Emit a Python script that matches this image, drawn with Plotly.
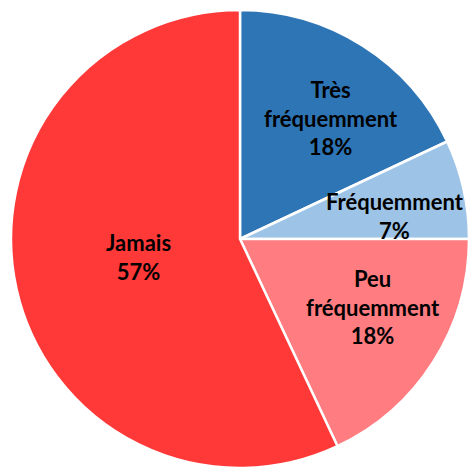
import plotly.graph_objects as go

labels = ["Très fréquemment", "Fréquemment", "Peu fréquemment", "Jamais"]
label_lines = ["Très<br>fréquemment", "Fréquemment", "Peu<br>fréquemment", "Jamais"]
values = [18, 7, 18, 57]
colors = ["#2E75B6", "#9DC3E6", "#FF7C80", "#FF3838"]

W, H = 469, 468
fig = go.Figure(go.Pie(
    labels=labels, values=values, sort=False, direction="clockwise", rotation=0,
    marker=dict(colors=colors, line=dict(color="white", width=2.5)),
    textinfo="none", hoverinfo="label+percent", showlegend=False,
    domain=dict(x=[11 / W, 1], y=[0, 1 - 10 / H]),
))

# label centres in page pixels
pos = [(331, 118), (395, 216), (373, 307), (138, 257)]
total = sum(values)
for (px, py), txt, v in zip(pos, label_lines, values):
    fig.add_annotation(
        x=px / W, y=1 - py / H, xref="paper", yref="paper",
        xanchor="center", yanchor="middle",
        text=f"<b>{txt}<br>{round(100 * v / total)}%</b>", showarrow=False,
        font=dict(family="Lato", size=22, color="black"), align="center",
    )

fig.update_layout(width=W, height=H, margin=dict(l=0, r=0, t=0, b=0),
                  paper_bgcolor="white", plot_bgcolor="white")
fig.write_html("out.html", config={"displayModeBar": False},
               post_script="document.body.style.margin='0';document.body.style.overflow='hidden';")
